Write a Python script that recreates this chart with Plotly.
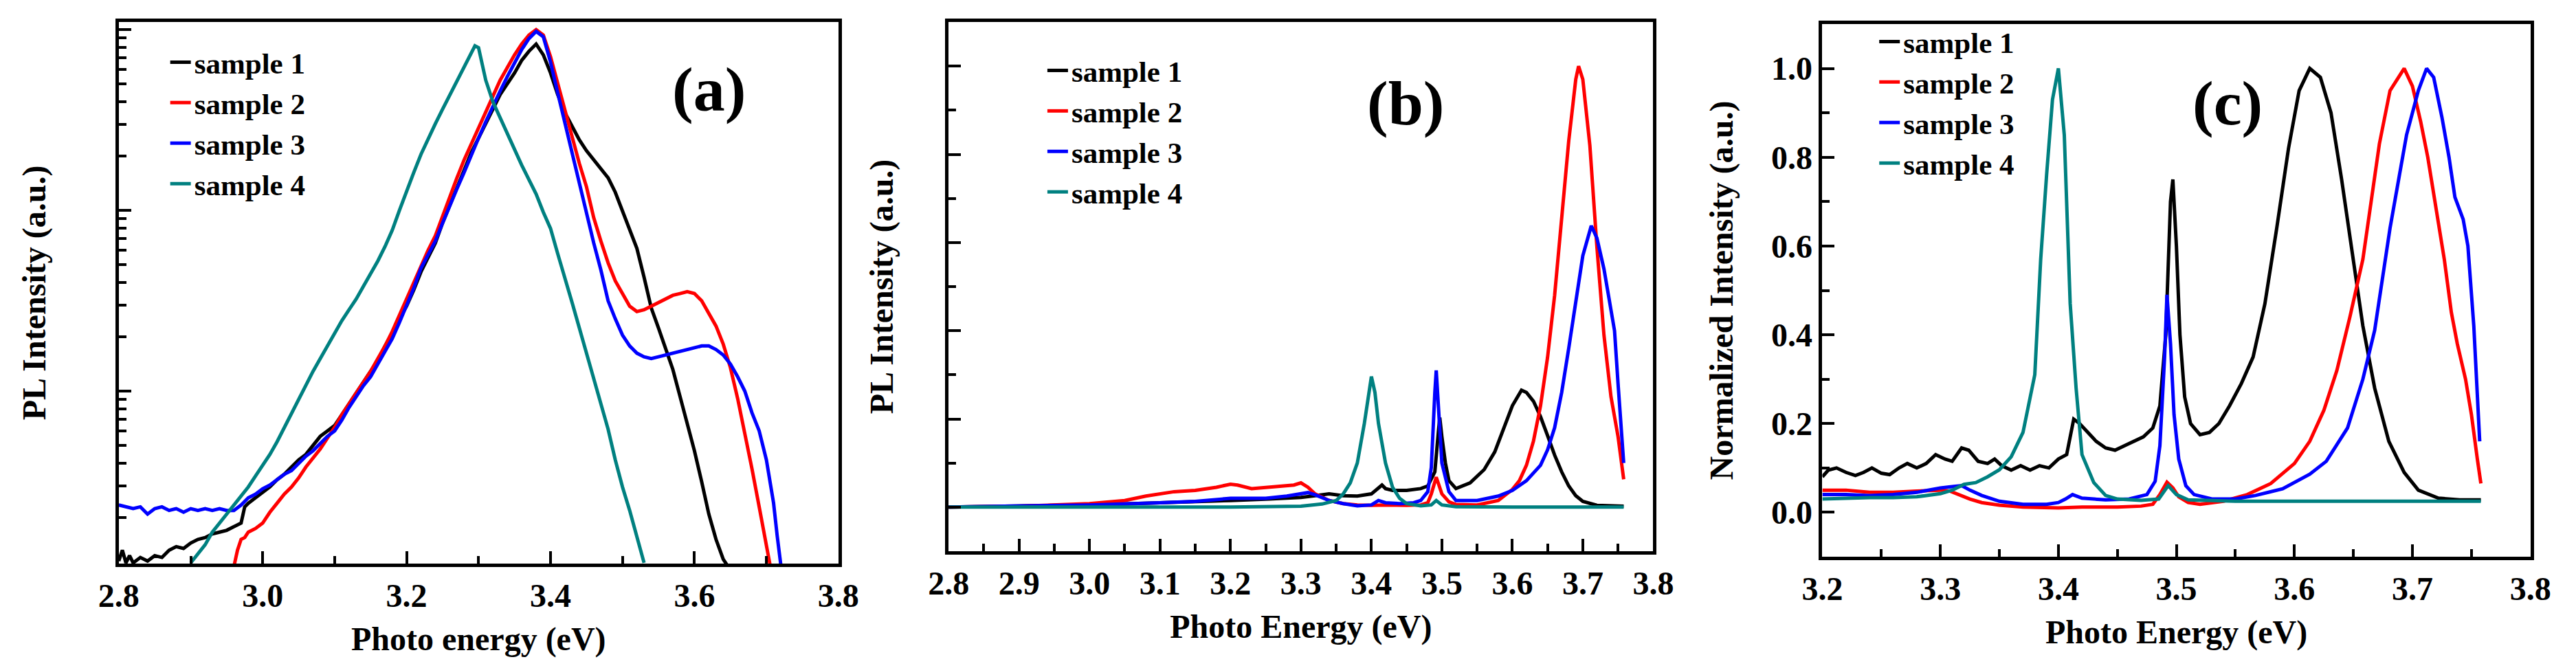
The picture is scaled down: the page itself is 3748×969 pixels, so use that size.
import numpy as np
import plotly.graph_objects as go

W, H = 3748, 969
FONT = "Liberation Serif, Times New Roman, serif"
COLORS = ["#000000", "#FF0000", "#0000FF", "#008080"]
NAMES = ["sample 1", "sample 2", "sample 3", "sample 4"]

# ---------------- panel (a): log10 of PL intensity ----------------
a1_x = [2.800, 2.805, 2.810, 2.815, 2.820, 2.830, 2.840, 2.850, 2.860, 2.870, 2.880, 2.890, 2.900,
        2.910, 2.920, 2.930, 2.940, 2.950, 2.960, 2.970, 2.975, 2.980, 2.990, 3.000, 3.010, 3.020,
        3.030, 3.040, 3.050, 3.060, 3.070, 3.080, 3.090, 3.100, 3.110, 3.120, 3.130, 3.140, 3.150,
        3.160, 3.170, 3.180, 3.190, 3.200, 3.210, 3.220, 3.230, 3.240, 3.250, 3.260, 3.270, 3.280,
        3.290, 3.300, 3.310, 3.320, 3.330, 3.340, 3.350, 3.360, 3.370, 3.380, 3.390, 3.400, 3.410,
        3.420, 3.430, 3.440, 3.450, 3.460, 3.470, 3.480, 3.490, 3.500, 3.510, 3.520, 3.530, 3.540,
        3.550, 3.560, 3.570, 3.580, 3.590, 3.600, 3.610, 3.620, 3.630, 3.640, 3.645]
a1_log = [1.06, 1.12, 1.05, 1.09, 1.05, 1.08, 1.06, 1.09, 1.08, 1.12, 1.14, 1.13, 1.16,
          1.18, 1.19, 1.21, 1.22, 1.23, 1.25, 1.27, 1.36, 1.38, 1.41, 1.44, 1.47, 1.51,
          1.54, 1.58, 1.62, 1.65, 1.70, 1.75, 1.78, 1.81, 1.87, 1.93, 1.99, 2.05, 2.11,
          2.17, 2.25, 2.32, 2.40, 2.47, 2.56, 2.66, 2.74, 2.82, 2.93, 3.03, 3.13, 3.23,
          3.32, 3.40, 3.48, 3.56, 3.64, 3.70, 3.76, 3.83, 3.88, 3.92, 3.86, 3.76, 3.64,
          3.54, 3.46, 3.39, 3.33, 3.28, 3.23, 3.18, 3.10, 3.00, 2.90, 2.79, 2.63, 2.46,
          2.35, 2.24, 2.12, 1.97, 1.82, 1.67, 1.50, 1.32, 1.18, 1.07, 1.04]

a2_x = [2.960, 2.965, 2.970, 2.975, 2.980, 2.990, 3.000, 3.010, 3.020, 3.030, 3.040, 3.050, 3.060,
        3.070, 3.080, 3.090, 3.100, 3.110, 3.120, 3.130, 3.140, 3.150, 3.160, 3.170, 3.180, 3.190,
        3.200, 3.210, 3.220, 3.230, 3.240, 3.250, 3.260, 3.270, 3.280, 3.290, 3.300, 3.310, 3.320,
        3.330, 3.340, 3.350, 3.360, 3.370, 3.380, 3.390, 3.400, 3.410, 3.420, 3.430, 3.440, 3.450,
        3.460, 3.470, 3.480, 3.490, 3.500, 3.510, 3.520, 3.530, 3.540, 3.550, 3.560, 3.570, 3.580,
        3.590, 3.600, 3.610, 3.620, 3.630, 3.640, 3.650, 3.660, 3.670, 3.680, 3.690, 3.700, 3.705]
a2_log = [1.03, 1.12, 1.18, 1.19, 1.22, 1.24, 1.27, 1.33, 1.38, 1.43, 1.47, 1.52, 1.58,
          1.63, 1.68, 1.74, 1.80, 1.87, 1.93, 1.99, 2.05, 2.11, 2.18, 2.25, 2.33, 2.42,
          2.51, 2.60, 2.70, 2.78, 2.86, 2.97, 3.08, 3.18, 3.28, 3.37, 3.46, 3.55, 3.64,
          3.72, 3.79, 3.86, 3.92, 3.97, 4.00, 3.97, 3.85, 3.70, 3.55, 3.40, 3.26, 3.13,
          2.96, 2.83, 2.71, 2.61, 2.54, 2.47, 2.44, 2.45, 2.47, 2.49, 2.51, 2.53, 2.54,
          2.55, 2.54, 2.50, 2.43, 2.36, 2.26, 2.13, 1.96, 1.77, 1.57, 1.36, 1.15, 1.04]

a3_x = [2.800, 2.810, 2.820, 2.830, 2.840, 2.850, 2.860, 2.870, 2.880, 2.890, 2.900, 2.910, 2.920,
        2.930, 2.940, 2.950, 2.960, 2.970, 2.980, 2.990, 3.000, 3.010, 3.020, 3.030, 3.040, 3.050,
        3.060, 3.070, 3.080, 3.090, 3.100, 3.110, 3.120, 3.130, 3.140, 3.150, 3.160, 3.170, 3.180,
        3.190, 3.200, 3.210, 3.220, 3.230, 3.240, 3.250, 3.260, 3.270, 3.280, 3.290, 3.300, 3.310,
        3.320, 3.330, 3.340, 3.350, 3.360, 3.370, 3.380, 3.390, 3.400, 3.410, 3.420, 3.430, 3.440,
        3.450, 3.460, 3.470, 3.480, 3.490, 3.500, 3.510, 3.520, 3.530, 3.540, 3.550, 3.560, 3.570,
        3.580, 3.590, 3.600, 3.610, 3.620, 3.630, 3.640, 3.650, 3.660, 3.670, 3.680, 3.690, 3.700,
        3.710, 3.715, 3.720]
a3_log = [1.37, 1.36, 1.35, 1.36, 1.32, 1.35, 1.36, 1.34, 1.35, 1.33, 1.35, 1.34, 1.35,
          1.34, 1.35, 1.34, 1.34, 1.37, 1.41, 1.43, 1.46, 1.48, 1.51, 1.54, 1.56, 1.60,
          1.64, 1.67, 1.71, 1.75, 1.78, 1.84, 1.91, 1.97, 2.03, 2.08, 2.15, 2.22, 2.29,
          2.38, 2.47, 2.57, 2.68, 2.76, 2.83, 2.93, 3.03, 3.12, 3.21, 3.31, 3.40, 3.49,
          3.58, 3.66, 3.74, 3.82, 3.89, 3.95, 3.99, 3.96, 3.82, 3.65, 3.48, 3.31, 3.14,
          2.98, 2.82, 2.67, 2.50, 2.40, 2.31, 2.25, 2.21, 2.19, 2.18, 2.19, 2.20, 2.21,
          2.22, 2.23, 2.24, 2.25, 2.25, 2.23, 2.20, 2.15, 2.08, 2.00, 1.88, 1.78, 1.62,
          1.38, 1.20, 1.04]

a4_x = [2.900, 2.910, 2.920, 2.930, 2.940, 2.950, 2.960, 2.970, 2.980, 2.990, 3.000, 3.010, 3.020,
        3.030, 3.040, 3.050, 3.060, 3.070, 3.080, 3.090, 3.100, 3.110, 3.120, 3.130, 3.140, 3.150,
        3.160, 3.170, 3.180, 3.190, 3.200, 3.210, 3.220, 3.230, 3.240, 3.250, 3.260, 3.270, 3.280,
        3.290, 3.295, 3.300, 3.310, 3.320, 3.330, 3.340, 3.350, 3.360, 3.370, 3.380, 3.390, 3.400,
        3.410, 3.420, 3.430, 3.440, 3.450, 3.460, 3.470, 3.480, 3.490, 3.500, 3.510, 3.520, 3.530]
a4_log = [1.05, 1.10, 1.15, 1.22, 1.27, 1.32, 1.37, 1.42, 1.47, 1.53, 1.59, 1.65, 1.72,
          1.80, 1.88, 1.96, 2.04, 2.11, 2.18, 2.25, 2.32, 2.39, 2.45, 2.51, 2.58, 2.65,
          2.72, 2.80, 2.89, 3.00, 3.11, 3.21, 3.31, 3.40, 3.48, 3.56, 3.64, 3.72, 3.80,
          3.88, 3.91, 3.90, 3.72, 3.60, 3.51, 3.43, 3.34, 3.25, 3.17, 3.09, 2.99, 2.90,
          2.76, 2.63, 2.49, 2.35, 2.21, 2.07, 1.92, 1.79, 1.62, 1.47, 1.34, 1.20, 1.05]

# ---------------- panel (b): PL intensity, arbitrary units ----------------
b1_x = [2.80, 2.90, 3.00, 3.10, 3.15, 3.20, 3.25, 3.28, 3.30, 3.32, 3.34, 3.36, 3.38, 3.40, 3.41,
        3.415, 3.42, 3.43, 3.45, 3.47, 3.48, 3.49, 3.495, 3.497, 3.50, 3.505, 3.51, 3.52, 3.54,
        3.56, 3.575, 3.59, 3.60, 3.613, 3.62, 3.63, 3.64, 3.65, 3.66, 3.67, 3.68, 3.69, 3.70,
        3.72, 3.758]
b1_y = [0.00, 0.02, 0.05, 0.10, 0.12, 0.15, 0.18, 0.20, 0.22, 0.26, 0.30, 0.26, 0.25, 0.30, 0.45,
        0.50, 0.42, 0.38, 0.38, 0.42, 0.48, 0.80, 1.70, 2.03, 1.60, 1.00, 0.60, 0.42, 0.55,
        0.85, 1.25, 1.90, 2.30, 2.65, 2.60, 2.40, 2.05, 1.62, 1.18, 0.80, 0.48, 0.26, 0.13,
        0.04, 0.02]

b2_x = [2.80, 2.90, 3.00, 3.05, 3.08, 3.10, 3.12, 3.15, 3.18, 3.20, 3.21, 3.23, 3.25, 3.27, 3.29,
        3.30, 3.31, 3.32, 3.34, 3.36, 3.38, 3.40, 3.42, 3.45, 3.47, 3.48, 3.485, 3.492, 3.497,
        3.50, 3.51, 3.52, 3.55, 3.58, 3.60, 3.61, 3.62, 3.63, 3.64, 3.65, 3.66, 3.67, 3.68, 3.69,
        3.694, 3.70, 3.71, 3.72, 3.73, 3.74, 3.75, 3.758]
b2_y = [0.00, 0.02, 0.08, 0.15, 0.25, 0.30, 0.35, 0.38, 0.45, 0.52, 0.50, 0.42, 0.45, 0.48, 0.50,
        0.55, 0.45, 0.30, 0.15, 0.08, 0.05, 0.04, 0.05, 0.04, 0.05, 0.10, 0.30, 0.68, 0.45,
        0.30, 0.12, 0.06, 0.05, 0.15, 0.40, 0.60, 0.95, 1.50, 2.30, 3.40, 4.80, 6.50, 8.30, 9.70,
        10.0, 9.70, 8.20, 5.90, 3.90, 2.50, 1.60, 0.63]

b3_x = [2.80, 2.90, 3.00, 3.10, 3.15, 3.20, 3.25, 3.28, 3.30, 3.31, 3.32, 3.34, 3.36, 3.38, 3.40,
        3.41, 3.42, 3.44, 3.46, 3.47, 3.48, 3.485, 3.49, 3.492, 3.495, 3.50, 3.51, 3.52, 3.55,
        3.58, 3.60, 3.62, 3.64, 3.65, 3.66, 3.67, 3.68, 3.69, 3.70, 3.712, 3.72, 3.73, 3.74,
        3.745, 3.75, 3.755, 3.758]
b3_y = [0.00, 0.02, 0.05, 0.10, 0.13, 0.20, 0.20, 0.25, 0.30, 0.33, 0.28, 0.15, 0.08, 0.03, 0.05,
        0.15, 0.10, 0.08, 0.10, 0.15, 0.35, 0.90, 2.60, 3.10, 2.30, 1.00, 0.35, 0.15, 0.15,
        0.25, 0.38, 0.60, 0.95, 1.30, 1.80, 2.60, 3.60, 4.70, 5.70, 6.38, 6.10, 5.40, 4.50,
        4.00, 2.80, 1.80, 1.00]

b4_x = [2.80, 3.00, 3.20, 3.30, 3.33, 3.35, 3.36, 3.37, 3.38, 3.39, 3.395, 3.40, 3.405, 3.41,
        3.42, 3.43, 3.44, 3.45, 3.47, 3.485, 3.492, 3.50, 3.52, 3.60, 3.758]
b4_y = [0.00, 0.00, 0.00, 0.02, 0.07, 0.15, 0.30, 0.55, 1.00, 1.90, 2.50, 2.96, 2.60, 1.90,
        1.00, 0.45, 0.20, 0.08, 0.03, 0.05, 0.15, 0.05, 0.01, 0.00, 0.00]

# ---------------- panel (c): normalized intensity ----------------
c1_x = [3.200, 3.205, 3.212, 3.220, 3.228, 3.235, 3.242, 3.250, 3.257, 3.265, 3.272, 3.280, 3.288,
        3.296, 3.304, 3.310, 3.318, 3.324, 3.332, 3.340, 3.346, 3.352, 3.360, 3.368, 3.376, 3.384,
        3.392, 3.400, 3.407, 3.413, 3.418, 3.425, 3.432, 3.440, 3.448, 3.456, 3.464, 3.472, 3.480,
        3.486, 3.491, 3.495, 3.497, 3.500, 3.503, 3.507, 3.512, 3.520, 3.528, 3.536, 3.545, 3.555,
        3.565, 3.575, 3.585, 3.595, 3.604, 3.613, 3.622, 3.631, 3.640, 3.649, 3.658, 3.668, 3.680,
        3.693, 3.705, 3.722, 3.740, 3.758]
c1_y = [0.080, 0.095, 0.100, 0.090, 0.083, 0.090, 0.100, 0.088, 0.085, 0.100, 0.110, 0.100, 0.110,
        0.130, 0.120, 0.115, 0.145, 0.140, 0.115, 0.110, 0.120, 0.105, 0.095, 0.105, 0.095, 0.105,
        0.100, 0.120, 0.130, 0.210, 0.200, 0.180, 0.160, 0.145, 0.140, 0.150, 0.160, 0.170, 0.190,
        0.240, 0.400, 0.700, 0.750, 0.600, 0.400, 0.260, 0.200, 0.175, 0.180, 0.200, 0.240, 0.290,
        0.350, 0.470, 0.640, 0.820, 0.950, 1.000, 0.980, 0.900, 0.750, 0.580, 0.420, 0.280, 0.160,
        0.090, 0.050, 0.032, 0.028, 0.028]

c2_x = [3.200, 3.220, 3.240, 3.260, 3.280, 3.300, 3.308, 3.315, 3.325, 3.335, 3.350, 3.370, 3.400,
        3.420, 3.450, 3.470, 3.480, 3.486, 3.492, 3.497, 3.502, 3.510, 3.520, 3.540, 3.560, 3.580,
        3.600, 3.613, 3.625, 3.636, 3.647, 3.658, 3.665, 3.672, 3.681, 3.693, 3.700, 3.707, 3.713,
        3.720, 3.727, 3.733, 3.738, 3.745, 3.750, 3.755, 3.758]
c2_y = [0.050, 0.050, 0.045, 0.045, 0.048, 0.050, 0.048, 0.040, 0.030, 0.022, 0.016, 0.012, 0.010,
        0.012, 0.012, 0.014, 0.018, 0.040, 0.068, 0.055, 0.035, 0.022, 0.018, 0.025, 0.040, 0.065,
        0.110, 0.160, 0.230, 0.320, 0.440, 0.570, 0.700, 0.830, 0.950, 1.000, 0.960, 0.880, 0.800,
        0.690, 0.570, 0.450, 0.380, 0.300, 0.220, 0.120, 0.065]

c3_x = [3.200, 3.220, 3.240, 3.260, 3.280, 3.300, 3.310, 3.318, 3.325, 3.335, 3.350, 3.370, 3.390,
        3.400, 3.406, 3.412, 3.420, 3.440, 3.460, 3.475, 3.482, 3.486, 3.490, 3.492, 3.495, 3.498,
        3.502, 3.508, 3.515, 3.530, 3.550, 3.567, 3.590, 3.613, 3.627, 3.645, 3.658, 3.668, 3.681,
        3.695, 3.705, 3.712, 3.718, 3.725, 3.731, 3.736, 3.743, 3.747, 3.752, 3.757]
c3_y = [0.040, 0.040, 0.038, 0.040, 0.045, 0.055, 0.058, 0.060, 0.050, 0.038, 0.025, 0.018, 0.018,
        0.022, 0.030, 0.040, 0.032, 0.028, 0.030, 0.040, 0.070, 0.150, 0.350, 0.490, 0.380, 0.220,
        0.120, 0.060, 0.040, 0.030, 0.030, 0.038, 0.053, 0.086, 0.115, 0.190, 0.300, 0.410, 0.640,
        0.850, 0.950, 1.000, 0.980, 0.890, 0.800, 0.710, 0.660, 0.600, 0.420, 0.160]

c4_x = [3.200, 3.220, 3.240, 3.260, 3.280, 3.300, 3.310, 3.320, 3.330, 3.340, 3.350, 3.360, 3.370,
        3.380, 3.385, 3.390, 3.395, 3.400, 3.405, 3.410, 3.415, 3.420, 3.430, 3.440, 3.450, 3.470,
        3.485, 3.493, 3.500, 3.510, 3.550, 3.650, 3.758]
c4_y = [0.030, 0.032, 0.033, 0.033, 0.035, 0.042, 0.050, 0.063, 0.067, 0.080, 0.096, 0.125, 0.180,
        0.310, 0.570, 0.760, 0.930, 1.000, 0.850, 0.470, 0.280, 0.130, 0.067, 0.038, 0.030, 0.027,
        0.030, 0.060, 0.040, 0.028, 0.025, 0.025, 0.025]

panel_a = [(a1_x, a1_log), (a2_x, a2_log), (a3_x, a3_log), (a4_x, a4_log)]
panel_b = [(b1_x, b1_y), (b2_x, b2_y), (b3_x, b3_y), (b4_x, b4_y)]
panel_c = [(c1_x, c1_y), (c2_x, c2_y), (c3_x, c3_y), (c4_x, c4_y)]

fig = go.Figure()

for i, (x, ylog) in enumerate(panel_a):
    fig.add_trace(go.Scatter(x=x, y=np.power(10.0, ylog), mode="lines", name=NAMES[i],
                             line=dict(color=COLORS[i], width=5),
                             xaxis="x", yaxis="y", legend="legend"))
for i, (x, y) in enumerate(panel_b):
    fig.add_trace(go.Scatter(x=x, y=y, mode="lines", name=NAMES[i],
                             line=dict(color=COLORS[i], width=5),
                             xaxis="x2", yaxis="y2", legend="legend2"))
for i, (x, y) in enumerate(panel_c):
    fig.add_trace(go.Scatter(x=x, y=y, mode="lines", name=NAMES[i],
                             line=dict(color=COLORS[i], width=5),
                             xaxis="x3", yaxis="y3", legend="legend3"))


def px_x(p):
    return p / W


def px_y(p):
    return 1 - p / H


tick_font = dict(family=FONT, size=48, color="black", weight="bold")
title_font = dict(family=FONT, size=48, color="black", weight="bold")
legend_font = dict(family=FONT, size=43, color="black", weight="bold")
minor_ticks = dict(ticks="inside", ticklen=11, tickwidth=4, tickcolor="black", showgrid=False)


def axis(**kw):
    base = dict(showline=True, linewidth=5, linecolor="black", mirror=True,
                ticks="inside", ticklen=18, tickwidth=4, tickcolor="black",
                showgrid=False, zeroline=False, tickfont=tick_font)
    base.update(kw)
    return base


log_minor = [m * 10 ** d for d in range(1, 5) for m in range(2, 10)]

fig.update_layout(
    width=W, height=H,
    margin=dict(l=0, r=0, t=0, b=0),
    paper_bgcolor="white", plot_bgcolor="white",
    font=dict(family=FONT, color="black"),
    xaxis=axis(domain=[px_x(137), px_x(1201)], anchor="y", range=[2.8, 3.8],
               tick0=2.8, dtick=0.2, tickformat=".1f", minor=dict(dtick=0.1, **minor_ticks),
               title=dict(text="Photo energy (eV)", font=title_font, standoff=22)),
    yaxis=axis(domain=[px_y(812), px_y(24)], anchor="x", type="log", range=[1.046, 4.042],
               tickvals=[10, 100, 1000, 10000], showticklabels=False,
               minor=dict(tickvals=log_minor, **minor_ticks),
               title=dict(text="PL Intensity (a.u.)", font=title_font, standoff=88)),
    xaxis2=axis(domain=[px_x(1364), px_x(2406)], anchor="y2", range=[2.8, 3.8],
                tick0=2.8, dtick=0.1, tickformat=".1f", minor=dict(dtick=0.05, **minor_ticks),
                title=dict(text="Photo Energy (eV)", font=title_font, standoff=22)),
    yaxis2=axis(domain=[px_y(794), px_y(24)], anchor="x2", range=[-1, 11],
                tick0=0, dtick=2, showticklabels=False, minor=dict(dtick=1, **minor_ticks),
                title=dict(text="PL Intensity (a.u.)", font=title_font, standoff=62)),
    xaxis3=axis(domain=[px_x(2656), px_x(3703)], anchor="y3", range=[3.2, 3.8],
                tick0=3.2, dtick=0.1, tickformat=".1f", minor=dict(dtick=0.05, **minor_ticks),
                title=dict(text="Photo Energy (eV)", font=title_font, standoff=22)),
    yaxis3=axis(domain=[px_y(802), px_y(27)], anchor="x3", range=[-0.1, 1.1],
                tick0=0, dtick=0.2, tickformat=".1f", minor=dict(dtick=0.1, **minor_ticks),
                title=dict(text="Normalized Intensity (a.u.)", font=title_font, standoff=42)),
    legend=dict(x=px_x(208), y=px_y(48), xanchor="left", yanchor="top",
                bgcolor="rgba(0,0,0,0)", font=legend_font, tracegroupgap=0),
    legend2=dict(x=px_x(1505), y=px_y(60), xanchor="left", yanchor="top",
                 bgcolor="rgba(0,0,0,0)", font=legend_font, tracegroupgap=0),
    legend3=dict(x=px_x(2735), y=px_y(18), xanchor="left", yanchor="top",
                 bgcolor="rgba(0,0,0,0)", font=legend_font, tracegroupgap=0),
    showlegend=True,
)

for label, cx, cy in [("(a)", 1010, 122), ("(b)", 2040, 142), ("(c)", 3255, 142)]:
    fig.add_annotation(text=label, x=px_x(cx), y=px_y(cy), xref="paper", yref="paper",
                       showarrow=False, xanchor="center", yanchor="middle",
                       font=dict(family=FONT, size=92, color="black", weight="bold"))

fig.write_html("out.html")
